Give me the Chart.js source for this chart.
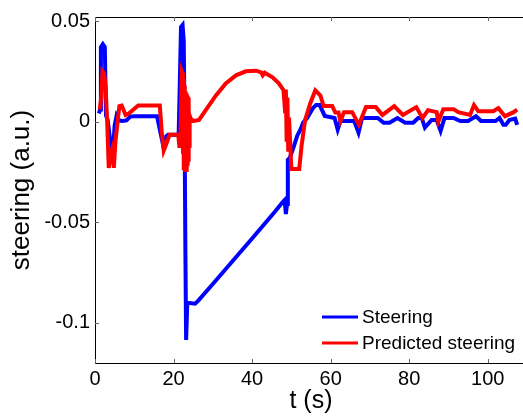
<!DOCTYPE html>
<html>
<head>
<meta charset="utf-8">
<title>Steering vs predicted steering</title>
<script src="https://cdn.jsdelivr.net/npm/chart.js@4.4.1/dist/chart.umd.min.js"></script>
<style>
    html, body { margin: 0; padding: 0; background: #ffffff; overflow: hidden; }
    #wrap { position: relative; width: 530px; height: 416px; }
</style>
</head>
<body>
<div id="wrap"><canvas id="steeringChart"></canvas></div>
<script>
// Data
const seriesLabels = ['Steering', 'Predicted steering'];

const steeringT = [1.0, 1.3, 1.5, 2.0, 2.5, 2.8, 3.2, 3.6, 4.2, 4.6, 5.0, 5.5, 6.2, 7.0, 8.0, 9.0, 10.0, 15.8, 16.5, 17.2,
    17.8, 18.6, 21.3, 21.6, 21.9, 22.3, 22.6, 22.8, 23.0, 23.2, 23.5, 25.5, 26.3, 30, 35, 40, 45.8, 47.8, 48.3, 48.6,
    48.9, 49.1, 49.6, 50.5, 51.5, 52.3, 53, 54, 55.5, 56.3, 57.2, 58.5, 61, 61.8, 62.5, 66, 67.1, 68, 72, 73.5,
    75, 77, 79, 81, 82.3, 83.2, 84, 85.7, 87, 88, 89, 91.3, 93, 95, 97, 98.3, 102, 103, 104, 104.6,
    105.5, 107, 107.5];
const steeringVals = [0.004, 0.006, 0.037, 0.0385, 0.037, 0.003, 0.001, -0.005, -0.015, -0.014, -0.002, 0.003, 0.0005, 0.0003, 0.0006, 0.0025, 0.0027, 0.0027, -0.004, -0.0104,
    -0.008, -0.0065, -0.0065, 0.02, 0.047, 0.048, 0.04, 0.0, -0.06, -0.1085, -0.09, -0.0905, -0.089, -0.0807, -0.0694, -0.0581, -0.0448, -0.040, -0.039, -0.046,
    -0.041, -0.019, -0.018, -0.013, -0.007, -0.004, -0.0005, 0.0018, 0.0067, 0.0082, 0.0082, 0.0028, 0.0018, -0.004, 0.0003, 0.0003, -0.0055, 0.0018, 0.0018, -0.0006,
    -0.0006, 0.0018, -0.0006, -0.0006, 0.0018, 0.0018, -0.003, 0.0008, 0.0008, -0.0046, 0.0018, 0.0018, 0.0003, 0.0003, 0.0027, 0.0003, 0.0003, 0.0018, -0.0016, -0.0016,
    0.0008, 0.0015, -0.0016];

const predictedT = [1.2, 1.6, 1.9, 2.3, 2.7, 3.1, 3.5, 4.0, 4.3, 4.8, 5.2, 6.2, 6.8, 7.8, 8.6, 9.5, 11.0, 16.5, 17.0, 17.5,
    18.3, 19.0, 21.2, 21.5, 21.8, 22.1, 22.3, 22.4, 22.5, 22.6, 22.7, 22.8, 22.9, 23.0, 23.1, 23.2, 23.3, 23.4, 23.5, 23.6,
    23.7, 23.8, 23.9, 24.0, 24.1, 24.5, 25.2, 26.5, 28.2, 30.8, 33.3, 35.9, 38.4, 41.0, 42.3, 42.7, 43.2, 45.2, 46.8, 48.0,
    48.4, 48.6, 48.8, 49.0, 49.2, 49.4, 50.0, 52.0, 52.6, 53.5, 54.8, 56.1, 57.4, 58.2, 60.4, 61.2, 62.0, 62.5, 63.4, 65.5,
    67.2, 69, 71.5, 73.2, 76.2, 78.4, 81.8, 83.4, 84.8, 87.0, 87.4, 88.7, 91.3, 92.5, 95.5, 96.5, 97.6, 101.4, 102.7, 104.4,
    106.6, 107.5];
const predictedVals = [0.006, 0.012, 0.025, 0.024, 0.0175, 0.0, -0.023, -0.016, -0.014, -0.023, -0.01, 0.0077, 0.008, 0.0033, 0.004, 0.0055, 0.008, 0.008, -0.005, -0.0144,
    -0.0104, -0.0065, -0.0065, -0.013, -0.005, 0.025, 0.024, -0.016, 0.021, -0.024, 0.018, -0.024, 0.017, -0.024, 0.015, -0.024, 0.014, -0.023, 0.013, -0.022,
    0.012, -0.02, 0.008, -0.012, 0.003, 0.001, 0.0003, 0.0008, 0.0057, 0.013, 0.019, 0.023, 0.025, 0.0253, 0.0245, 0.023, 0.0243, 0.022, 0.019, 0.0156,
    0.005, 0.016, -0.01, 0.012, -0.015, 0.002, -0.0236, -0.0236, -0.012, 0.0008, 0.009, 0.0155, 0.013, 0.0077, 0.0077, 0.0045, 0.0045, 0.0003, 0.0047, 0.0047,
    -0.0016, 0.0072, 0.0072, 0.0033, 0.0077, 0.0033, 0.0072, 0.0018, 0.0057, 0.0047, -0.0001, 0.0062, 0.0062, 0.0047, 0.0033, 0.0082, 0.0052, 0.0052, 0.0067, 0.0027,
    0.0047, 0.006];

// Axis ticks
const xTicks = [0, 20, 40, 60, 80, 100];
const xTickLabels = ['0', '20', '40', '60', '80', '100'];
const yTicks = [-0.1, -0.05, 0, 0.05];
const yTickLabels = ['-0.1', '-0.05', '0', '0.05'];

// Zip time and value arrays into points
function toPoints(ts, vals) {
    return ts.map((t, i) => ({ x: t, y: vals[i] }));
}

const FONT = '"Liberation Sans", Arial, Helvetica, sans-serif';

// MATLAB style box with inward ticks, plus legend inside the plot
const matlabAxes = {
    id: 'matlabAxes',
    afterDraw(chart) {
        const ctx = chart.ctx;
        const area = chart.chartArea;
        const xs = chart.scales.x;
        const ys = chart.scales.y;
        const tickLen = 4;

        ctx.save();
        ctx.strokeStyle = '#000000';
        ctx.lineWidth = 1;
        ctx.beginPath();
        ctx.moveTo(area.left + 0.5, area.top + 0.5);
        ctx.lineTo(area.right, area.top + 0.5);
        ctx.moveTo(area.left + 0.5, area.top);
        ctx.lineTo(area.left + 0.5, area.bottom + 0.5);
        ctx.lineTo(area.right, area.bottom + 0.5);
        ctx.stroke();

        ctx.strokeStyle = '#666666';
        ctx.beginPath();
        xTicks.forEach(v => {
            const px = Math.round(xs.getPixelForValue(v)) + 0.5;
            ctx.moveTo(px, area.bottom);
            ctx.lineTo(px, area.bottom - tickLen);
            ctx.moveTo(px, area.top);
            ctx.lineTo(px, area.top + tickLen);
        });
        yTicks.forEach(v => {
            const py = Math.round(ys.getPixelForValue(v)) + 0.5;
            ctx.moveTo(area.left, py);
            ctx.lineTo(area.left + tickLen, py);
        });
        ctx.stroke();

        // Legend, lower right inside the axes
        const legendX = area.right - 205;
        const legendY = area.bottom - 46;
        ctx.font = '19px ' + FONT;
        ctx.textBaseline = 'middle';
        ctx.textAlign = 'left';
        chart.data.datasets.forEach((ds, i) => {
            const y = legendY + i * 26;
            ctx.strokeStyle = ds.borderColor;
            ctx.lineWidth = 3;
            ctx.beginPath();
            ctx.moveTo(legendX, y);
            ctx.lineTo(legendX + 36, y);
            ctx.stroke();
            ctx.fillStyle = '#000000';
            ctx.fillText(ds.label, legendX + 40, y + 1);
        });
        ctx.restore();
    }
};

function initializeChart() {
    const ctx = document.getElementById('steeringChart').getContext('2d');

    new Chart(ctx, {
        type: 'line',
        data: {
            datasets: [{
                label: seriesLabels[0],
                data: toPoints(steeringT, steeringVals),
                borderColor: '#0000ff',
                borderWidth: 4,
                pointRadius: 0,
                tension: 0,
                order: 1
            }, {
                label: seriesLabels[1],
                data: toPoints(predictedT, predictedVals),
                borderColor: '#ff0000',
                borderWidth: 4,
                pointRadius: 0,
                tension: 0,
                order: 0
            }]
        },
        options: {
            responsive: false,
            animation: false,
            layout: { padding: { top: 13, right: 3, left: 0, bottom: 0 } },
            plugins: {
                legend: { display: false },
                tooltip: { enabled: false }
            },
            scales: {
                x: {
                    type: 'linear',
                    min: 0,
                    max: 110,
                    afterBuildTicks: scale => { scale.ticks = xTicks.map(v => ({ value: v })); },
                    afterFit: scale => { scale.height = 53; },
                    grid: { display: false, drawTicks: false },
                    border: { display: false },
                    ticks: {
                        padding: 4,
                        color: '#000000',
                        font: { family: FONT, size: 20 },
                        maxRotation: 0,
                        callback: value => xTickLabels[xTicks.indexOf(value)]
                    },
                    title: {
                        display: true,
                        text: 't (s)',
                        color: '#000000',
                        font: { family: FONT, size: 25 },
                        padding: { top: 0, bottom: 0 }
                    }
                },
                y: {
                    type: 'linear',
                    min: -0.12,
                    max: 0.052,
                    afterBuildTicks: scale => { scale.ticks = yTicks.map(v => ({ value: v })); },
                    afterFit: scale => { scale.width = 95; },
                    grid: { display: false, drawTicks: false },
                    border: { display: false },
                    ticks: {
                        padding: 5,
                        color: '#000000',
                        font: { family: FONT, size: 20 },
                        callback: value => yTickLabels[yTicks.indexOf(value)]
                    },
                    title: {
                        display: true,
                        text: 'steering (a.u.)',
                        color: '#000000',
                        font: { family: FONT, size: 26 },
                        padding: { top: 6, bottom: 0 }
                    }
                }
            }
        },
        plugins: [matlabAxes]
    });
}

const canvas = document.getElementById('steeringChart');
canvas.width = 530;
canvas.height = 416;
canvas.style.width = '530px';
canvas.style.height = '416px';
initializeChart();
</script>
</body>
</html>
